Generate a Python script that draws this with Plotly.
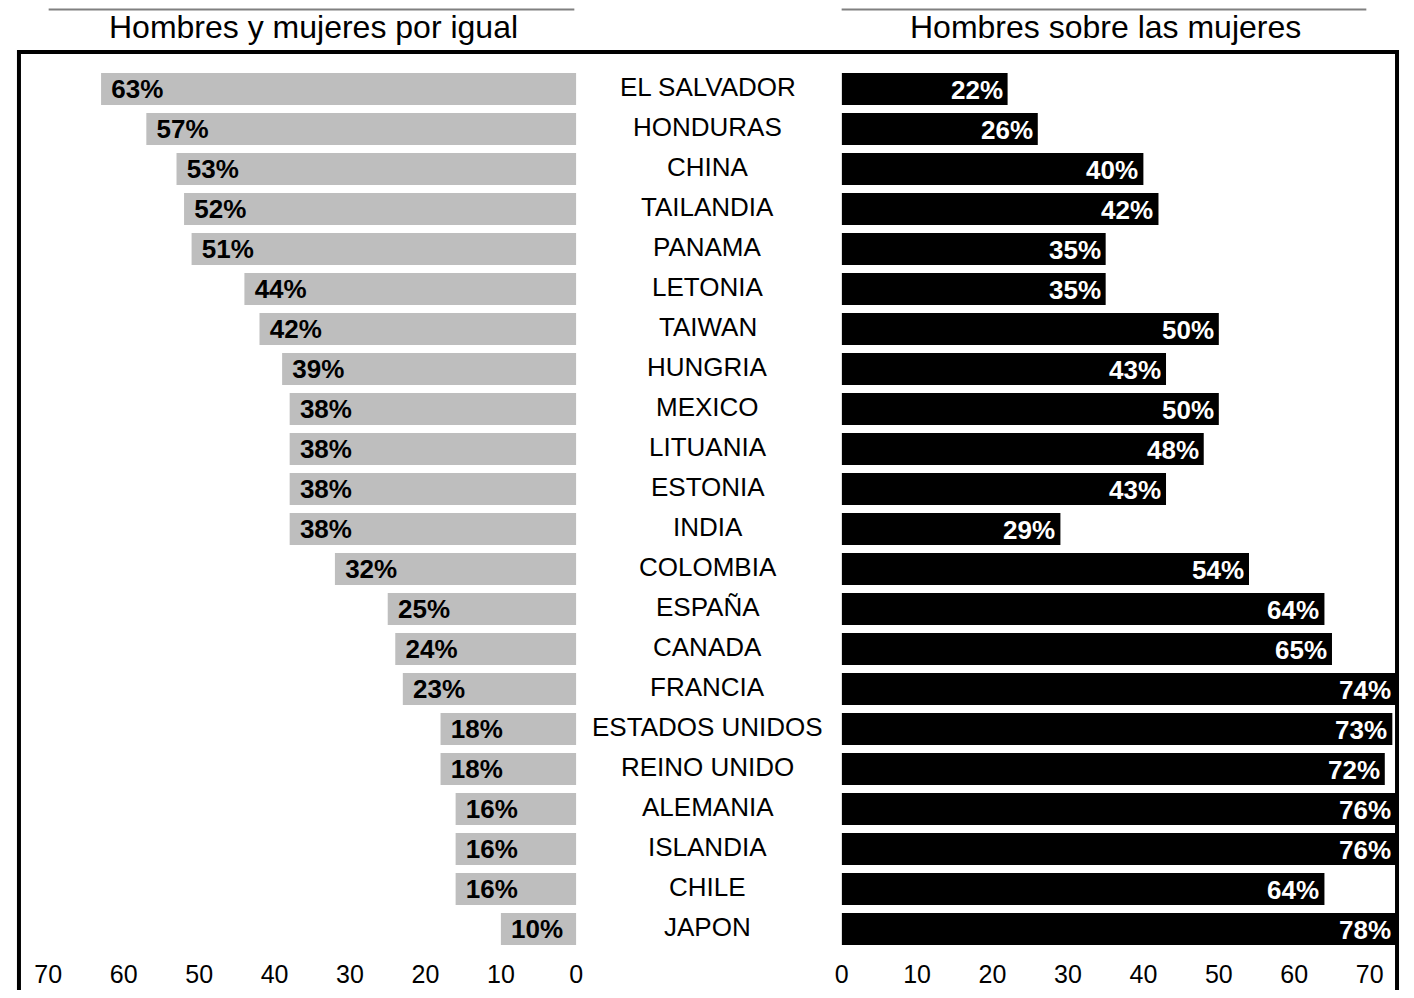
import plotly.graph_objects as go

countries = ["EL SALVADOR", "HONDURAS", "CHINA", "TAILANDIA", "PANAMA", "LETONIA",
             "TAIWAN", "HUNGRIA", "MEXICO", "LITUANIA", "ESTONIA", "INDIA",
             "COLOMBIA", "ESPAÑA", "CANADA", "FRANCIA", "ESTADOS UNIDOS",
             "REINO UNIDO", "ALEMANIA", "ISLANDIA", "CHILE", "JAPON"]
iguales = [63, 57, 53, 52, 51, 44, 42, 39, 38, 38, 38, 38, 32, 25, 24, 23, 18, 18, 16, 16, 16, 10]
hombres = [22, 26, 40, 42, 35, 35, 50, 43, 50, 48, 43, 29, 54, 64, 65, 74, 73, 72, 76, 76, 64, 78]
tick_vals = [0, 10, 20, 30, 40, 50, 60, 70]
title_left = "Hombres y mujeres por igual"
title_right = "Hombres sobre las mujeres"

# page has an 8px body margin: the figure is drawn inside it
OFF = 8
W, H = 1414 - 2 * OFF, 998 - 2 * OFF
FONT = "Arial, Liberation Sans, sans-serif"


def px(xp):  # page x -> paper
    return (xp - OFF) / W


def py(yp):  # page y (from top) -> paper
    return (H - (yp - OFF)) / H


px_per = 7.62
L0, L1 = 14, 575     # page x of left plot area (0 at right)
R0, R1 = 843, 1403   # page x of right plot area (0 at left)
left_max = (L1 - L0) / px_per
right_max = (R1 - R0) / px_per

fig = go.Figure()
fig.add_trace(go.Bar(
    y=countries, x=iguales, orientation="h", xaxis="x", yaxis="y",
    marker=dict(color="#bebebe", line=dict(width=0)),
    text=[f" {v}%" for v in iguales], textposition="inside", insidetextanchor="end",
    textfont=dict(family=FONT, size=26, color="black", weight="bold"),
    textangle=0, constraintext="none", cliponaxis=True, showlegend=False,
))
fig.add_trace(go.Bar(
    y=countries, x=hombres, orientation="h", xaxis="x2", yaxis="y",
    marker=dict(color="black", line=dict(width=0)),
    cliponaxis=True, showlegend=False,
))

axis_common = dict(
    showgrid=False, zeroline=False, showline=False, tickmode="array",
    tickvals=tick_vals, ticks="outside", ticklen=3, tickcolor="rgba(0,0,0,0)",
    tickfont=dict(family=FONT, size=25, color="black"), fixedrange=True,
)
fig.update_layout(
    width=W, height=H,
    margin=dict(l=0, r=0, t=0, b=0, pad=0),
    paper_bgcolor="white", plot_bgcolor="rgba(0,0,0,0)",
    bargap=0.2,
    xaxis=dict(domain=[px(L0), px(L1)], range=[left_max, 0], anchor="y", **axis_common),
    xaxis2=dict(domain=[px(R0), px(R1)], range=[0, right_max], anchor="y", **axis_common),
    yaxis=dict(domain=[py(949), py(69)], categoryorder="array",
               categoryarray=countries, autorange="reversed", showticklabels=False,
               showgrid=False, zeroline=False, showline=False, ticks=""),
    font=dict(family=FONT, color="black"),
)

# value labels of the right bars, kept inside the visible part of each bar
for c, v in zip(countries, hombres):
    fig.add_annotation(x=min(v, right_max), xref="x2", y=c, yref="y", text=f"{v}%",
                       showarrow=False, xanchor="right", yanchor="middle", xshift=-3,
                       yshift=-1,
                       font=dict(family=FONT, size=26, color="white", weight="bold"))

for c in countries:
    fig.add_annotation(x=px(708), xref="paper", y=c, yref="y", text=c, showarrow=False,
                       xanchor="center", yanchor="middle",
                       font=dict(family=FONT, size=26, color="black"), yshift=2)

fig.add_annotation(x=px(310), y=py(27), xref="paper", yref="paper", text=title_left,
                   showarrow=False, xanchor="center", yanchor="middle",
                   font=dict(family=FONT, size=32, color="black"))
fig.add_annotation(x=px(1110), y=py(27), xref="paper", yref="paper", text=title_right,
                   showarrow=False, xanchor="center", yanchor="middle",
                   font=dict(family=FONT, size=32, color="black"))

top_line_y = 1 - 1.5 / H
fig.add_shape(type="line", xref="paper", yref="paper", x0=px(42), x1=px(573),
              y0=top_line_y, y1=top_line_y, line=dict(color="#808080", width=2))
fig.add_shape(type="line", xref="paper", yref="paper", x0=px(843), x1=px(1373),
              y0=top_line_y, y1=top_line_y, line=dict(color="#808080", width=2))
fig.add_shape(type="rect", xref="paper", yref="paper", x0=px(12), x1=px(1404),
              y0=-0.05, y1=py(52), line=dict(color="black", width=4),
              fillcolor="rgba(0,0,0,0)", layer="above")

fig.write_html("out.html")
